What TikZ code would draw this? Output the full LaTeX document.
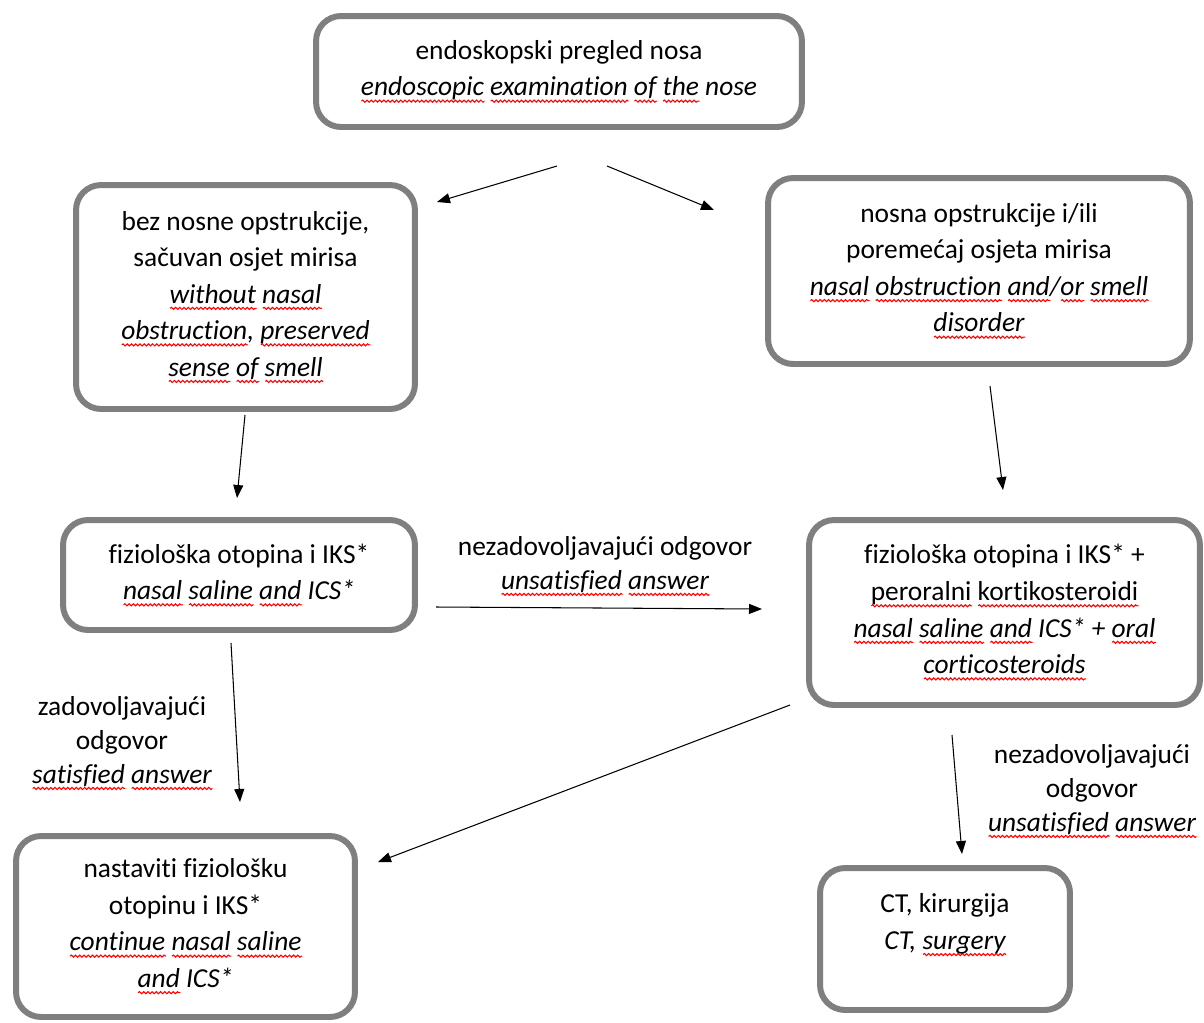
\documentclass[tikz,border=0pt]{standalone}
\usepackage{fontspec}
\setmainfont{Carlito}[Ligatures=NoCommon]
\usepackage{tikz}
\usetikzlibrary{arrows.meta, decorations.pathmorphing}
\definecolor{boxgray}{RGB}{127,127,127}
\newcommand\sq[1]{\leavevmode\setbox0\hbox{#1}\rlap{\tikz[x=1pt, y=1pt, baseline=0pt]\draw[red, line width=0.6pt, sharp corners, decorate, decoration={snake, amplitude=0.6pt, segment length=2.4pt}] (0pt,-3pt) -- (\the\wd0,-3pt);}\box0\relax}

\begin{document}
\begin{tikzpicture}[x=0.02cm, y=-0.02cm,
	box/.style={draw=boxgray, line width=3.4pt, rounded corners=0.5cm, fill=white, align=center, inner sep=0pt, font=\fontsize{15.6}{20.8}\selectfont},
	lbl/.style={align=center, inner sep=0pt, font=\fontsize{15.6}{19.4}\selectfont},
	arr/.style={-{Triangle[length=0.26cm, width=0.2cm]}, line width=0.6pt}]
		\useasboundingbox (0,0) rectangle (1204,1022);

		\node[box, minimum width=9.72cm, minimum height=2.22cm] (exam) at (559,71.5) {endoskopski pregled nosa\\ \textit{\sq{endoscopic} \sq{examination} \sq{of} \sq{the} nose}};
		\node[box, minimum width=6.78cm, minimum height=4.48cm] (noobs) at (245.5,297) {bez nosne opstrukcije,\\ sačuvan osjet mirisa\\ \textit{\sq{without} \sq{nasal}}\\ \textit{\sq{obstruction}, \sq{preserved}}\\ \textit{\sq{sense} \sq{of} \sq{smell}}};
		\node[box, minimum width=8.44cm, minimum height=3.72cm] (obs) at (979,271) {nosna opstrukcije i/ili\\ poremećaj osjeta mirisa\\ \textit{\sq{nasal} \sq{obstruction} \sq{and}/\sq{or} \sq{smell}}\\ \textit{\sq{disorder}}};
		\node[box, minimum width=7.04cm, minimum height=2.2cm] (saline) at (239,575) {fiziološka otopina i IKS*\\ \textit{\sq{nasal} \sq{saline} \sq{and} ICS*}};
		\node[box, minimum width=7.82cm, minimum height=3.7cm] (oral) at (1004.5,612.5) {fiziološka otopina i IKS* +\\ \sq{peroralni} \sq{kortikosteroidi}\\ \textit{\sq{nasal} \sq{saline} \sq{and} ICS* + \sq{oral}}\\ \textit{\sq{corticosteroids}}};
		\node[box, minimum width=6.78cm, minimum height=3.62cm] (cont) at (185.5,926.5) {nastaviti fiziološku\\ otopinu i IKS*\\ \textit{\sq{continue} \sq{nasal} \sq{saline}}\\ \textit{\sq{and} ICS*}};
		\node[box, minimum width=5cm, minimum height=2.84cm] (ct) at (945,939) {CT, kirurgija\\ \textit{CT, \sq{surgery}}\rule[-0.7cm]{0pt}{0pt}};

		\node[lbl] (unsat) at (605,566) {nezadovoljavajući odgovor\\ \textit{\sq{unsatisfied} \sq{answer}}};
		\node[lbl] (sat) at (122,743) {zadovoljavajući\\ odgovor\\ \textit{\sq{satisfied} \sq{answer}}};
		\node[lbl] (unsatb) at (1092,791) {nezadovoljavajući\\ odgovor\\ \textit{\sq{unsatisfied} \sq{answer}}};

		\coordinate (e1) at (557,166);
		\coordinate (n1) at (437,202);
		\coordinate (e2) at (607,166);
		\coordinate (o1) at (714,210);
		\coordinate (n2) at (245,415);
		\coordinate (s1) at (237,498);
		\coordinate (o2) at (990,386);
		\coordinate (r1) at (1003,490);
		\coordinate (s2) at (436,607);
		\coordinate (r2) at (762,609);
		\coordinate (s3) at (231,643);
		\coordinate (c1) at (240,802);
		\coordinate (r3) at (790,705);
		\coordinate (c2) at (378,862);
		\coordinate (r4) at (952,735);
		\coordinate (t1) at (962,854);

		\draw[arr] (e1) -- (n1);
		\draw[arr] (e2) -- (o1);
		\draw[arr] (n2) -- (s1);
		\draw[arr] (o2) -- (r1);
		\draw[arr] (s2) -- (r2);
		\draw[arr] (s3) -- (c1);
		\draw[arr] (r3) -- (c2);
		\draw[arr] (r4) -- (t1);
	\end{tikzpicture}
\end{document}
